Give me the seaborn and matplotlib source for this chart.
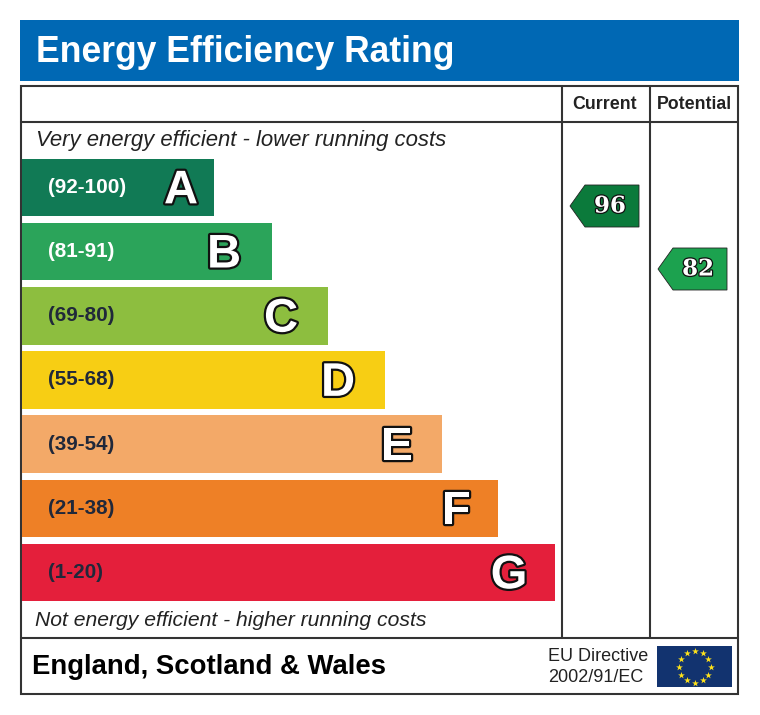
import numpy as np
import pandas as pd
import matplotlib
matplotlib.use("Agg")
import matplotlib.pyplot as plt
import matplotlib.patheffects as pe
from matplotlib.patches import Rectangle, Polygon
import seaborn as sns

# ---- data ----
bands = ["A", "B", "C", "D", "E", "F", "G"]
ranges = ["(92-100)", "(81-91)", "(69-80)", "(55-68)", "(39-54)", "(21-38)", "(1-20)"]
bar_lengths = [192, 250, 306, 363, 420, 476, 533]
letter_insets = [33, 48, 47, 47, 45, 42, 46]
bar_colors = ["#117A55", "#2BA45A", "#8DBE3F", "#F7CE14", "#F3A968", "#EE8026", "#E41F3B"]
range_text_colors = ["white", "white", "#20283a", "#20283a", "#20283a", "#20283a", "#20283a"]
current_value = 96
potential_value = 82
current_color = "#0B7A3B"
potential_color = "#1CA24F"
title = "Energy Efficiency Rating"
col_labels = ["Current", "Potential"]
top_note = "Very energy efficient - lower running costs"
bottom_note = "Not energy efficient - higher running costs"
region = "England, Scotland & Wales"
directive = ["EU Directive", "2002/91/EC"]

W, H = 760, 715
sns.set_theme(style="white")
plt.rcParams["font.family"] = ["Liberation Sans", "DejaVu Sans"]
fig = plt.figure(figsize=(W / 100, H / 100), dpi=100, facecolor="white")

# overlay in pixel coordinates for the frame and furniture
ov = fig.add_axes([0, 0, 1, 1])
ov.set_xlim(0, W)
ov.set_ylim(H, 0)
ov.axis("off")

# bar axes
top, spacing = 155.4, 64.17
left, span = 22, 533
bax = fig.add_axes([left / W, 1 - (top + 7 * spacing) / H, span / W, 7 * spacing / H])
df = pd.DataFrame({"band": bands, "length": bar_lengths})
sns.barplot(data=df, y="band", x="length", hue="band", palette=bar_colors, hue_order=bands,
            saturation=1, width=0.895, legend=False, ax=bax, linewidth=0)
bax.set_xlim(0, span)
bax.set_ylim(6.5, -0.5)
bax.axis("off")
bax.patch.set_alpha(0)

for i, (b, r, l, tc, ins) in enumerate(zip(bands, ranges, bar_lengths, range_text_colors, letter_insets)):
    bax.text(26, i, r, color=tc, fontsize=14.9, fontweight="bold", va="center", ha="left")
    bax.text(l - ins, i + 0.06, b, color="white", fontsize=34, fontweight="bold", va="center", ha="center",
             path_effects=[pe.withStroke(linewidth=3.2, foreground="#111111")])

# header
ov.add_patch(Rectangle((20, 20), 719, 61, fc="#0068B4", ec="none"))
ov.text(36, 53, title, color="white", fontsize=25.6, fontweight="bold", va="center", ha="left")

# frame
lc = "#333333"
lw = 1.5
ov.add_patch(Rectangle((21, 86), 717, 608, fc="none", ec=lc, lw=lw, zorder=5))
ov.plot([21, 738], [122, 122], color=lc, lw=lw, zorder=5)
ov.plot([21, 738], [638, 638], color=lc, lw=lw, zorder=5)
for x in (562, 650):
    ov.plot([x, x], [86, 638], color=lc, lw=lw, zorder=5)

for x, lab in zip((604.5, 694), col_labels):
    ov.text(x, 104.5, lab, color="#222222", fontsize=12.8, fontweight="bold", va="center", ha="center")

ov.text(36, 140.5, top_note, color="#222222", fontsize=15.9, style="italic", va="center", ha="left")
ov.text(35, 620.5, bottom_note, color="#222222", fontsize=15.2, style="italic", va="center", ha="left")
ov.text(32, 666.5, region, color="black", fontsize=19.8, fontweight="bold", va="center", ha="left")
ov.text(548, 656.5, directive[0], color="#222222", fontsize=13, va="center", ha="left")
ov.text(548, 677, directive[1], color="#222222", fontsize=13, va="center", ha="left")

# rating arrows: vertical position follows the value
def value_y(v):
    return 206 + (96 - v) * 4.5

def arrow(x0, v, color):
    y = value_y(v)
    pts = [(x0, y), (x0 + 15, y - 21), (x0 + 69, y - 21), (x0 + 69, y + 21), (x0 + 15, y + 21)]
    ov.add_patch(Polygon(pts, closed=True, fc=color, ec="#222222", lw=0.6, zorder=3))
    ov.text(x0 + 40, y + 0.5, str(v), color="white", fontsize=16.5, family=["DejaVu Serif"], fontweight="bold",
            va="center", ha="center", zorder=4,
            path_effects=[pe.withStroke(linewidth=1.8, foreground="#111111")])

arrow(570, current_value, current_color)
arrow(658, potential_value, potential_color)

# EU flag
ov.add_patch(Rectangle((657, 646), 75, 41, fc="#12336F", ec="none"))
theta = np.linspace(0, 2 * np.pi, 12, endpoint=False)
ov.scatter(694.5 + 16 * np.cos(theta), 666.5 + 16 * np.sin(theta), marker="*", s=26, c="#FFE31A", linewidths=0, zorder=4)

fig.savefig("out.png", dpi=100, facecolor="white")
